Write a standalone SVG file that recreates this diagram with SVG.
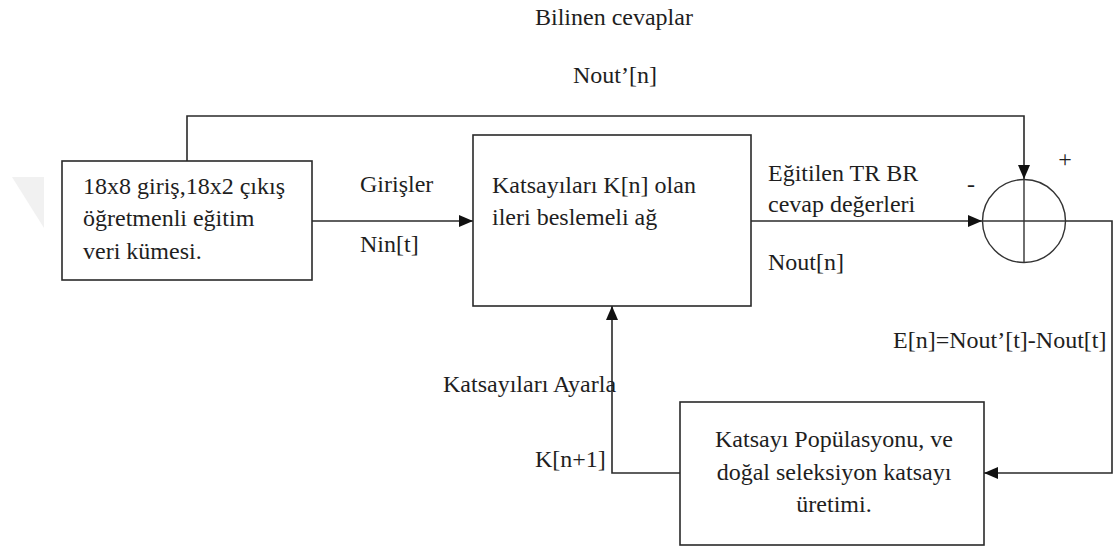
<svg xmlns="http://www.w3.org/2000/svg" width="1117" height="550" viewBox="0 0 1117 550">
  <style>
    .box { fill: #ffffff; stroke: #2a2a2a; stroke-width: 1.6; }
    .wire { fill: none; stroke: #2a2a2a; stroke-width: 1.6; }
    .sum { fill: none; stroke: #333333; stroke-width: 1.4; }
    text { font-family: "Liberation Serif", "Times New Roman", serif; font-size: 24px; fill: #1e1e1e; }
    .mid { text-anchor: middle; }
  </style>
  <defs>
    <marker id="head" viewBox="0 0 14 12" refX="14" refY="6" markerWidth="14" markerHeight="12" markerUnits="userSpaceOnUse" orient="auto">
      <path d="M0,0 L14,6 L0,12 Z" fill="#111111"/>
    </marker>
  </defs>

  <rect width="1117" height="550" fill="#ffffff"/>

  <!-- faint background mark -->
  <polygon points="12,177 44,177 44,228" fill="#f1f1f1"/>

  <!-- connectors -->
  <g id="connectors">
    <!-- known answers: from dataset up and over to the summing junction -->
    <polyline class="wire" points="187,161 187,116 1024,116 1024,179" marker-end="url(#head)"/>
    <!-- inputs into the network -->
    <line class="wire" x1="312" y1="221" x2="473" y2="221" marker-end="url(#head)"/>
    <!-- network output into the summing junction -->
    <line class="wire" x1="751" y1="221" x2="982" y2="221" marker-end="url(#head)"/>
    <!-- error back to the population block -->
    <polyline class="wire" points="1066,221 1112,221 1112,473 984,473" marker-end="url(#head)"/>
    <!-- new coefficients back to the network -->
    <polyline class="wire" points="680,473 612,473 612,306" marker-end="url(#head)"/>
  </g>

  <!-- dataset -->
  <g id="dataset">
    <rect class="box" x="62" y="161" width="250" height="119"/>
    <text x="83" y="194">18x8 giriş,18x2 çıkış</text>
    <text x="83" y="226">öğretmenli eğitim</text>
    <text x="83" y="259">veri kümesi.</text>
  </g>

  <!-- feed-forward network -->
  <g id="network">
    <rect class="box" x="473" y="135" width="278" height="171"/>
    <text x="492" y="193">Katsayıları K[n] olan</text>
    <text x="492" y="225">ileri beslemeli ağ</text>
  </g>

  <!-- summing junction -->
  <g id="junction">
    <circle class="sum" cx="1024" cy="221" r="41.5"/>
    <line class="sum" x1="982.5" y1="221" x2="1065.5" y2="221"/>
    <line class="sum" x1="1024" y1="179.5" x2="1024" y2="262.5"/>
    <text x="1065" y="167" class="mid">+</text>
    <text x="971" y="192" class="mid">-</text>
  </g>

  <!-- coefficient population -->
  <g id="population">
    <rect class="box" x="680" y="402" width="304" height="143"/>
    <text x="834" y="447" class="mid">Katsayı Popülasyonu, ve</text>
    <text x="834" y="480" class="mid">doğal seleksiyon katsayı</text>
    <text x="834" y="512" class="mid">üretimi.</text>
  </g>

  <!-- labels -->
  <g id="labels">
    <text x="535" y="25">Bilinen cevaplar</text>
    <text x="573" y="83">Nout’[n]</text>
    <text x="360" y="192">Girişler</text>
    <text x="360" y="252">Nin[t]</text>
    <text x="768" y="181">Eğitilen TR BR</text>
    <text x="768" y="212">cevap değerleri</text>
    <text x="768" y="270">Nout[n]</text>
    <text x="893" y="348">E[n]=Nout’[t]-Nout[t]</text>
    <text x="443" y="392">Katsayıları Ayarla</text>
    <text x="535" y="467">K[n+1]</text>
  </g>
</svg>
